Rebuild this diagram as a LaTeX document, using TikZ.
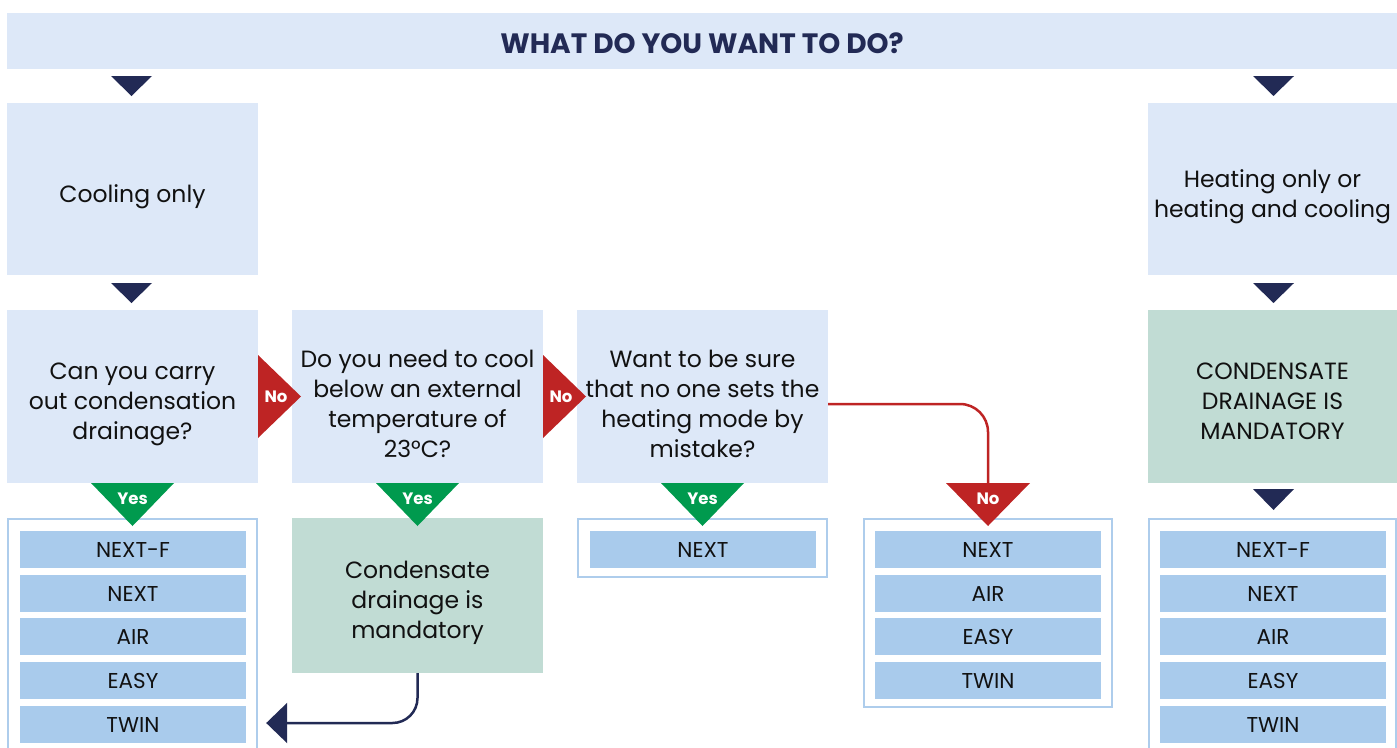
\documentclass[tikz,border=0pt]{standalone}
\usepackage{fontspec}
\setmainfont{Poppins}
\usetikzlibrary{arrows.meta}
\definecolor{boxblue}{HTML}{DDE8F8}
\definecolor{itemblue}{HTML}{A9CBEC}
\definecolor{framecol}{HTML}{AECDEC}
\definecolor{mintg}{HTML}{C1DCD4}
\definecolor{navy}{HTML}{222A55}
\definecolor{nored}{HTML}{BE2424}
\definecolor{yesgreen}{HTML}{009A4E}
\definecolor{txt}{HTML}{111111}
\tikzset{
  qbox/.style={rectangle, fill=boxblue, inner sep=0pt},
  gbox/.style={qbox, fill=mintg},
  qtext/.style={align=center, text=txt, inner sep=0pt, yshift=-7.5pt,
    font=\fontsize{23.5}{30}\selectfont},
  item/.style={rectangle, fill=itemblue, minimum width=226, minimum height=37, inner sep=0pt,
    text=txt, font=\fontsize{21.5}{24}\selectfont},
  frame/.style={draw=framecol, line width=2.2pt},
  tri/.style={text=white, font=\bfseries\fontsize{16.5}{18}\selectfont, inner sep=0pt},
  navytri/.style={fill=navy},
}
\begin{document}
\begin{tikzpicture}[x=1pt,y=-1pt]
\useasboundingbox (0,0) rectangle (1397,747);
% header
\node[qbox, minimum width=1390, minimum height=56,
  label={[qtext, text=navy, yshift=5.5pt, font=\bfseries\fontsize{28}{30}\selectfont]center:WHAT DO YOU WANT TO DO?}] (head) at (702,41) {};
% navy arrowheads
\fill[navytri] (111,76) -- (152,76) -- (131.5,96) -- cycle;
\fill[navytri] (1253,76) -- (1294,76) -- (1273.5,96) -- cycle;
\fill[navytri] (111,283) -- (152,283) -- (131.5,303) -- cycle;
\fill[navytri] (1253,283) -- (1294,283) -- (1273.5,303) -- cycle;
\fill[navytri] (1253,489) -- (1294,489) -- (1273.5,510) -- cycle;
% top boxes
\node[qbox, minimum width=251, minimum height=172,
  label={[qtext]center:Cooling only}] (cool) at (132.5,189) {};
\node[qbox, minimum width=249, minimum height=172,
  label={[qtext]center:Heating only or\\heating and cooling}] (heat) at (1272.5,189) {};
% question row
\node[qbox, minimum width=251, minimum height=173,
  label={[qtext]center:Can you carry\\out condensation\\drainage?}] (q1) at (132.5,396.5) {};
\node[qbox, minimum width=251, minimum height=173,
  label={[qtext]center:Do you need to cool\\below an external\\temperature of\\23°C?}] (q2) at (417.5,396.5) {};
\node[qbox, minimum width=251, minimum height=173,
  label={[qtext]center:Want to be sure\\that no one sets the\\heating mode by\\mistake?}] (q3) at (702.5,396.5) {};
\node[gbox, minimum width=249, minimum height=173,
  label={[qtext, yshift=3pt]center:CONDENSATE\\DRAINAGE IS\\MANDATORY}] (mand) at (1272.5,396.5) {};
% condensate box
\node[gbox, minimum width=251, minimum height=155,
  label={[qtext]center:Condensate\\drainage is\\mandatory}] (cond) at (417.5,595.5) {};
% frames
\draw[frame] (8,519) rectangle (257,760);
\draw[frame] (578,519) rectangle (827,577);
\draw[frame] (864,519) rectangle (1112,707);
\draw[frame] (1149,519) rectangle (1396,760);
% list 1
\node[item] (a1) at (133,549.5) {NEXT-F};
\node[item] (a2) at (133,593.5) {NEXT};
\node[item] (a3) at (133,636.5) {AIR};
\node[item] (a4) at (133,680.5) {EASY};
\node[item] (a5) at (133,724.5) {TWIN};
% list 3
\node[item] (c1) at (703,549.5) {NEXT};
% list 4
\node[item] (d1) at (988,549.5) {NEXT};
\node[item] (d2) at (988,593.5) {AIR};
\node[item] (d3) at (988,636.5) {EASY};
\node[item] (d4) at (988,680.5) {TWIN};
% list 5
\node[item] (e1) at (1273,549.5) {NEXT-F};
\node[item] (e2) at (1273,593.5) {NEXT};
\node[item] (e3) at (1273,636.5) {AIR};
\node[item] (e4) at (1273,680.5) {EASY};
\node[item] (e5) at (1273,724.5) {TWIN};
% connectors
\coordinate (noTop) at (988,484);
\draw[nored, line width=2.5pt, rounded corners=28pt] ([yshift=-7.5pt]q3.east) -| (noTop);
\coordinate (arrEnd) at ([xshift=20pt]a5.east);
\draw[navy, line width=2.5pt, rounded corners=25pt, -{Triangle[width=40pt,length=21pt]}]
  (cond.south) |- ([yshift=1.5pt]arrEnd);
% red No side triangles
\fill[nored] (258,355) -- (258,438) -- (301,396.5) -- cycle;
\node[tri] (no1) at (276,397) {No};
\fill[nored] (543,355) -- (543,438) -- (586,396.5) -- cycle;
\node[tri] (no2) at (561,397) {No};
\fill[nored] (946,483) -- (1030,483) -- (988,526) -- cycle;
\node[tri] (no3) at (988,499) {No};
% green Yes triangles
\fill[yesgreen] (91,483) -- (174,483) -- (132.5,526) -- cycle;
\node[tri] (yes1) at (132.5,499) {Yes};
\fill[yesgreen] (376,483) -- (459,483) -- (417.5,526) -- cycle;
\node[tri] (yes2) at (417.5,499) {Yes};
\fill[yesgreen] (661,483) -- (744,483) -- (702.5,526) -- cycle;
\node[tri] (yes3) at (702.5,499) {Yes};
\end{tikzpicture}
\end{document}
